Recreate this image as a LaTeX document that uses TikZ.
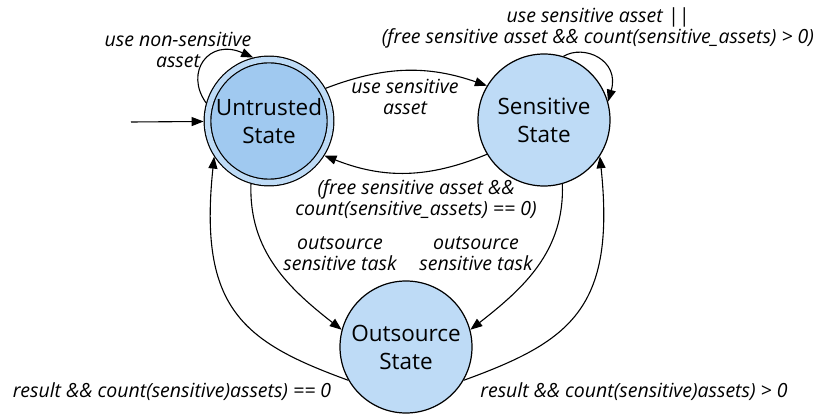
\documentclass[tikz,border=0pt]{standalone}
\usepackage{fontspec}
\setmainfont{Open Sans}
\usetikzlibrary{arrows.meta}
\definecolor{innerc}{RGB}{160,201,240}
\definecolor{ringc}{RGB}{190,219,246}
\begin{document}
\begin{tikzpicture}[x=1pt,y=-1pt,
  statenode/.style={circle,draw=black,line width=1.2pt,fill=ringc,minimum size=132pt,inner sep=0pt,align=center,
    font=\fontsize{22.5}{28}\selectfont},
  lbl/.style={align=center,inner sep=0pt,font=\itshape\fontsize{19.5}{21}\selectfont},
  arr/.style={line width=1.1pt,-{Triangle[length=12pt,width=9pt]}}]
\useasboundingbox (0,0) rectangle (825,414);
\node[statenode,fill=innerc,double=ringc,double distance=5.5pt,minimum size=123pt,outer sep=3.9pt] (U) at (269,121) {Untrusted\\State};
\node[statenode] (S) at (544,120) {Sensitive\\State};
\node[statenode] (O) at (406,347) {Outsource\\State};
\coordinate (init) at (131,122);
% edges
\draw[arr] (init) -- (U);
\draw[arr] (U.164) .. controls (184,72) and (209,38) .. (U.104);
\draw[arr] (U.30) to[bend left=20] (S.149);
\draw[arr] (S.211) to[bend left=22] (U.328);
\draw[arr] (S.73) .. controls (584,44) and (620,60) .. (S.16);
\draw[arr] (U.254) to[out=-92,in=142] (O.165);
\draw[arr] (S.286) to[out=-88,in=38] (O.15);
\draw[arr] (O.210) to[out=160,in=-96,out looseness=1.1,in looseness=1.5] (U.213);
\draw[arr] (O.330) to[out=20,in=-84,out looseness=1.1,in looseness=1.5] (S.327);
% labels
\node[lbl] (l1) at (178,50) {use non-sensitive\\asset};
\node[lbl] (l2) at (405,97) {use sensitive\\asset};
\node[lbl] (l3) at (416,199) {(free sensitive asset \&\&\\count(sensitive\_assets) == 0)};
\node[lbl] (l4) at (598,28) {use sensitive asset ||\\(free sensitive asset \&\& count(sensitive\_assets) > 0)};
\node[lbl] (l5) at (340,254) {outsource\\sensitive task};
\node[lbl] (l6) at (476,254) {outsource\\sensitive task};
\node[lbl] (l7) at (172,392) {result \&\& count(sensitive)assets) == 0};
\node[lbl] (l8) at (634,392) {result \&\& count(sensitive)assets) > 0};
\end{tikzpicture}
\end{document}
